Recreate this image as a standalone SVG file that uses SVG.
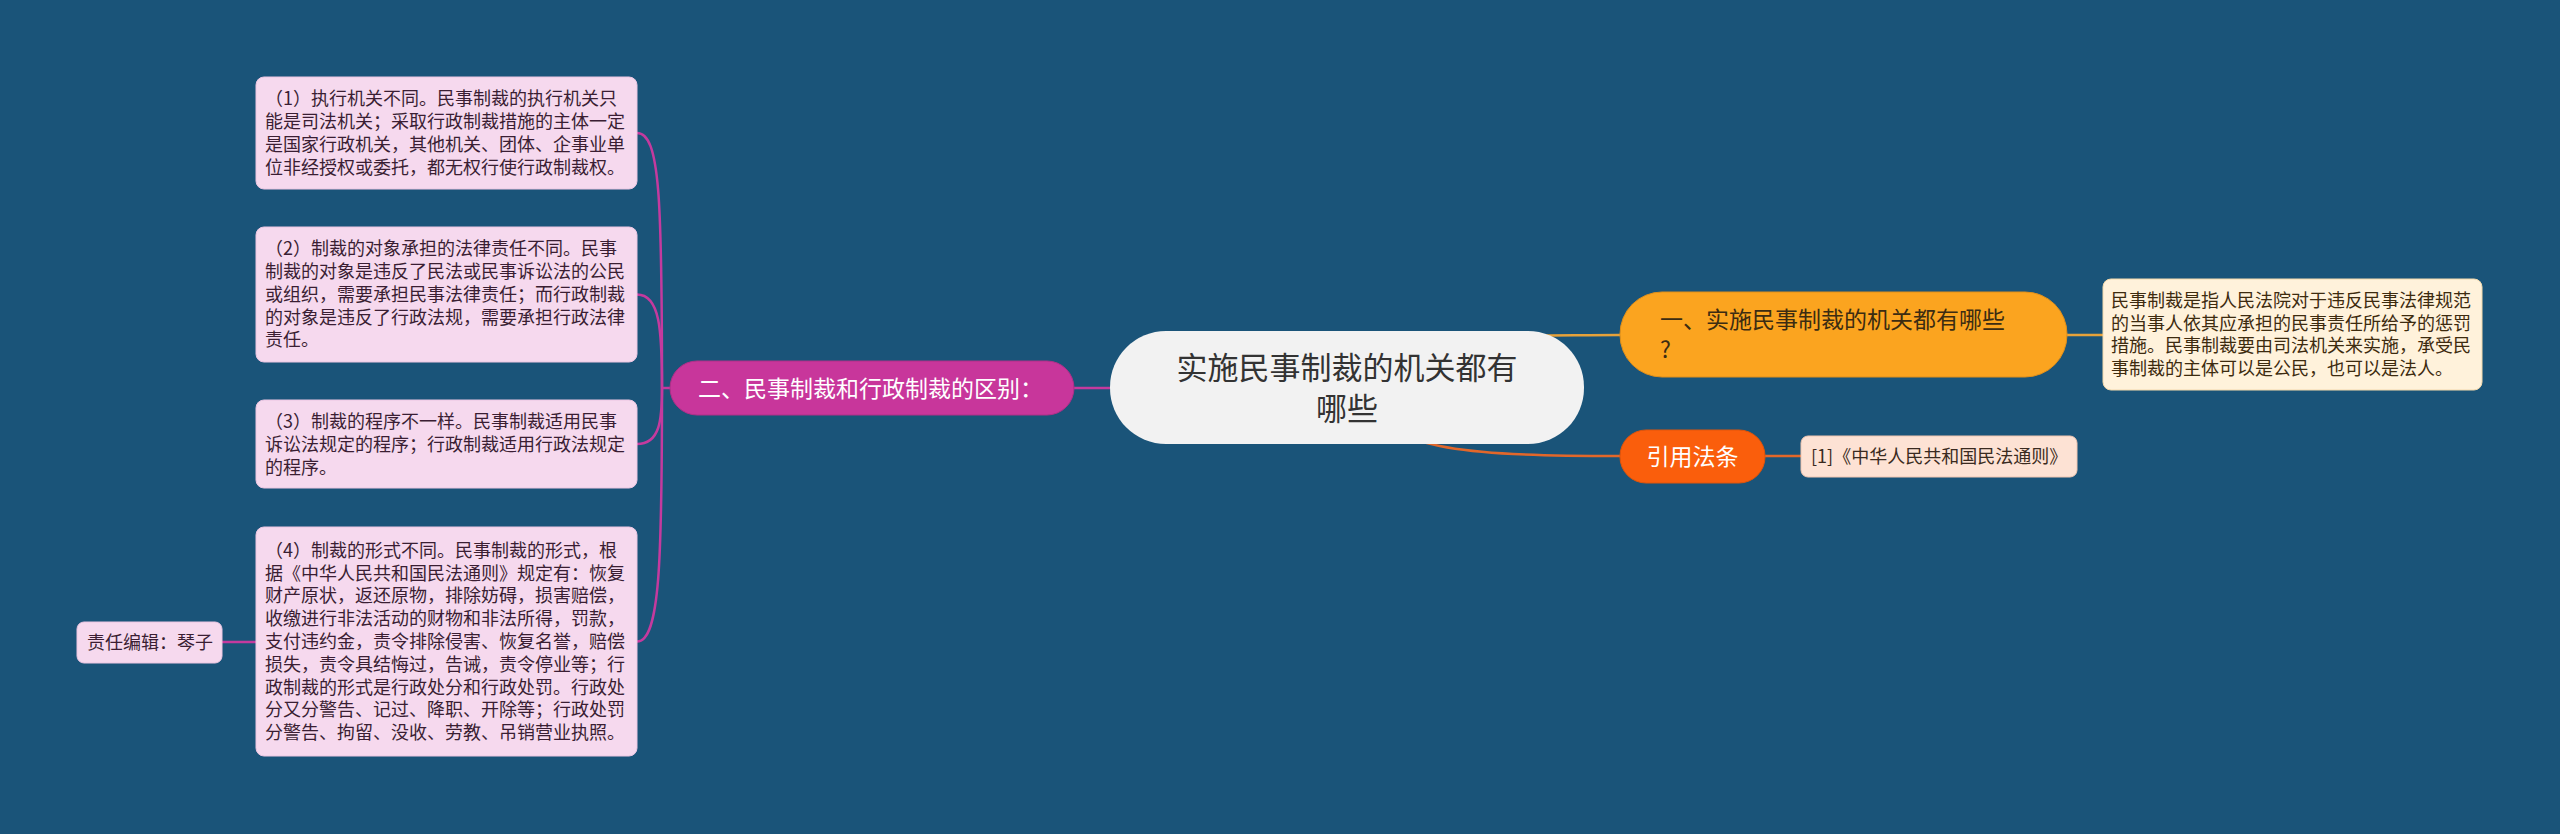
<svg xmlns="http://www.w3.org/2000/svg" width="2560" height="834" viewBox="0 0 2560 834">
<style>
text{font-family:"Noto Sans CJK SC","Noto Sans",sans-serif;}
.leaf{fill:#F6D9EE;stroke:#EBC6E2;stroke-width:1;}
.lt{font-size:18px;fill:#3A1E33;}
.pl{fill:none;stroke:#C43A9E;stroke-width:2.5;}
</style>
<rect width="2560" height="834" fill="#1A5479"/>
<g id="connectors">
<path class="pl" d="M672,388 L662,388"/>
<path class="pl" d="M662,388 C662,200 660,133 637,133"/>
<path class="pl" d="M662,388 C662,330 660,294.5 637,294.5"/>
<path class="pl" d="M662,388 C662,420 660,444 637,444"/>
<path class="pl" d="M662,388 C662,560 660,641.5 637,641.5"/>
<path class="pl" d="M222,642 L256,642"/>
<path class="pl" d="M1074,388 L1110,388"/>
<path fill="none" stroke="#E6A23A" stroke-width="2.5" d="M1480,336 C1560,336 1580,335 1620,335"/>
<path fill="none" stroke="#E6A23A" stroke-width="2.5" d="M2067,335 L2103,335"/>
<path fill="none" stroke="#E2672A" stroke-width="2.5" d="M1347,400 C1400,448 1450,456 1620,456"/>
<path fill="none" stroke="#E2672A" stroke-width="2.5" d="M1765,456 L1801,456"/>
</g>
<g id="center">
<rect x="1110" y="331" width="474" height="113" rx="56" fill="#F2F2F2"/>
<text x="1347" y="379" font-size="31" fill="#333333" text-anchor="middle">实施民事制裁的机关都有</text>
<text x="1347" y="420" font-size="31" fill="#333333" text-anchor="middle">哪些</text>
</g>
<g id="n-diff">
<rect x="670" y="361" width="404" height="54" rx="27" fill="#C8369B" stroke="#B02F88" stroke-width="1"/>
<text x="698" y="397" font-size="23" fill="#FFFFFF">二、民事制裁和行政制裁的区别：</text>
</g>
<g id="leaf1">
<rect class="leaf" x="256" y="77" width="381" height="112" rx="8"/>
<text class="lt" x="265" y="105.3">（1）执行机关不同。民事制裁的执行机关只</text>
<text class="lt" x="265" y="128.1">能是司法机关；采取行政制裁措施的主体一定</text>
<text class="lt" x="265" y="150.9">是国家行政机关，其他机关、团体、企事业单</text>
<text class="lt" x="265" y="173.7">位非经授权或委托，都无权行使行政制裁权。</text>
</g>
<g id="leaf2">
<rect class="leaf" x="256" y="227" width="381" height="135" rx="8"/>
<text class="lt" x="265" y="255.1">（2）制裁的对象承担的法律责任不同。民事</text>
<text class="lt" x="265" y="277.9">制裁的对象是违反了民法或民事诉讼法的公民</text>
<text class="lt" x="265" y="300.7">或组织，需要承担民事法律责任；而行政制裁</text>
<text class="lt" x="265" y="323.5">的对象是违反了行政法规，需要承担行政法律</text>
<text class="lt" x="265" y="346.3">责任。</text>
</g>
<g id="leaf3">
<rect class="leaf" x="256" y="400" width="381" height="88" rx="8"/>
<text class="lt" x="265" y="428.3">（3）制裁的程序不一样。民事制裁适用民事</text>
<text class="lt" x="265" y="451.1">诉讼法规定的程序；行政制裁适用行政法规定</text>
<text class="lt" x="265" y="473.9">的程序。</text>
</g>
<g id="leaf4">
<rect class="leaf" x="256" y="527" width="381" height="229" rx="8"/>
<text class="lt" x="265" y="556.8">（4）制裁的形式不同。民事制裁的形式，根</text>
<text class="lt" x="265" y="579.6">据《中华人民共和国民法通则》规定有：恢复</text>
<text class="lt" x="265" y="602.4">财产原状，返还原物，排除妨碍，损害赔偿，</text>
<text class="lt" x="265" y="625.2">收缴进行非法活动的财物和非法所得，罚款，</text>
<text class="lt" x="265" y="648">支付违约金，责令排除侵害、恢复名誉，赔偿</text>
<text class="lt" x="265" y="670.8">损失，责令具结悔过，告诫，责令停业等；行</text>
<text class="lt" x="265" y="693.6">政制裁的形式是行政处分和行政处罚。行政处</text>
<text class="lt" x="265" y="716.4">分又分警告、记过、降职、开除等；行政处罚</text>
<text class="lt" x="265" y="739.2">分警告、拘留、没收、劳教、吊销营业执照。</text>
</g>
<g id="editor">
<rect class="leaf" x="77" y="622" width="145" height="41" rx="7"/>
<text class="lt" x="87" y="648.5">责任编辑：琴子</text>
</g>
<g id="n-org">
<rect x="1620" y="292" width="447" height="85" rx="42" fill="#FBA41F" stroke="#E08F1A" stroke-width="1"/>
<text x="1660" y="328" font-size="23" fill="#3C2C12">一、实施民事制裁的机关都有哪些</text>
<text x="1660" y="358" font-size="23" fill="#3C2C12">?</text>
</g>
<g id="org-detail">
<rect x="2103" y="279" width="379" height="111" rx="8" fill="#FFF2DB" stroke="#F3D9AC" stroke-width="1"/>
<text class="lt" x="2111" y="306.8" fill="#3D2B0F" style="fill:#3D2B0F">民事制裁是指人民法院对于违反民事法律规范</text>
<text class="lt" x="2111" y="329.6" style="fill:#3D2B0F">的当事人依其应承担的民事责任所给予的惩罚</text>
<text class="lt" x="2111" y="352.4" style="fill:#3D2B0F">措施。民事制裁要由司法机关来实施，承受民</text>
<text class="lt" x="2111" y="375.2" style="fill:#3D2B0F">事制裁的主体可以是公民，也可以是法人。</text>
</g>
<g id="n-cite">
<rect x="1620" y="430" width="145" height="53" rx="26" fill="#FA5E0C" stroke="#E0540A" stroke-width="1"/>
<text x="1692.5" y="465" font-size="23" fill="#FFFFFF" text-anchor="middle">引用法条</text>
</g>
<g id="cite-detail">
<rect x="1801" y="436" width="276" height="41" rx="7" fill="#FDE2D4" stroke="#F0C6B2" stroke-width="1"/>
<text class="lt" x="1811" y="463" style="fill:#3A2A20">[1]《中华人民共和国民法通则》</text>
</g>
</svg>
